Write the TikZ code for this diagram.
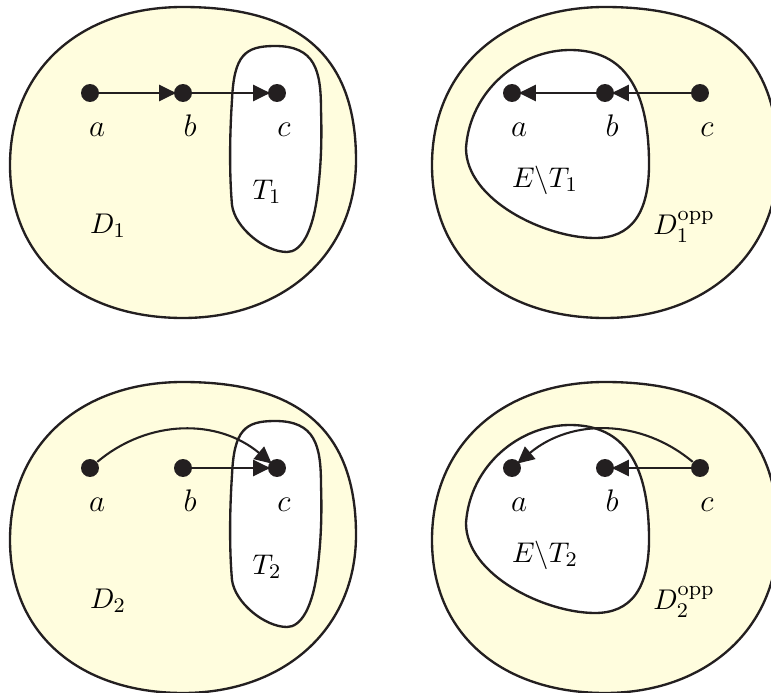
\documentclass[tikz,border=0pt]{standalone}
\usetikzlibrary{arrows.meta}
\definecolor{ink}{RGB}{35,31,32}
\definecolor{cream}{RGB}{255,253,222}

\begin{document}
\begin{tikzpicture}[x=0.3846pt, y=0.3846pt, node distance=14pt]
    % Style Definitions
    \tikzstyle{region} = [draw=ink, fill=cream, line width=0.9pt]
    \tikzstyle{hole} = [draw=ink, fill=white, line width=0.9pt]
    \tikzstyle{vertex} = [circle, fill=ink, inner sep=0pt, minimum size=6.9pt]
    \tikzstyle{vlabel} = [text height=1.5ex, text depth=.25ex, font=\fontsize{13}{15}\selectfont]
    \tikzstyle{setname} = [font=\fontsize{11}{13}\selectfont]
    \tikzstyle{link} = [draw=ink, line width=0.8pt, shorten >=-1pt, -{Triangle[length=6.5pt, width=6.2pt]}]

    \clip (0,0) rectangle (771,-693);

    % Regions
    \foreach \dx in {0,422} {
        \foreach \dy in {0,-375} {
            \draw[region, shift={(\dx,\dy)}] (183,-7) .. controls (301,-7) and (356,-57) .. (356,-160)
                .. controls (356,-255) and (283,-318) .. (183,-318)
                .. controls (83,-318) and (10,-262) .. (10,-165)
                .. controls (10,-70) and (80,-7) .. (183,-7) -- cycle;
        }
    }
    \foreach \dy in {0,-375} {
        % T_i
        \draw[hole, shift={(0,\dy)}] (275,-46) .. controls (315,-46) and (321,-70) .. (321,-110)
            .. controls (322,-140) and (321,-165) .. (318,-190)
            .. controls (313,-235) and (300,-252) .. (287,-252)
            .. controls (265,-252) and (235,-228) .. (232,-205)
            .. controls (229,-170) and (230,-130) .. (232,-100)
            .. controls (234,-55) and (245,-46) .. (275,-46) -- cycle;
        % E\T_i
        \draw[hole, shift={(0,\dy)}] (570,-50) .. controls (625,-50) and (648,-90) .. (649,-160)
            .. controls (650,-215) and (630,-238) .. (595,-238)
            .. controls (545,-238) and (466,-200) .. (466,-148)
            .. controls (470,-90) and (520,-50) .. (570,-50) -- cycle;
    }

    % Nodes
    \node (a1) [vertex] at (90,-93) {};
    \node (b1) [vertex] at (183,-93) {};
    \node (c1) [vertex] at (277,-93) {};
    \node (a1o) [vertex] at (512,-93) {};
    \node (b1o) [vertex] at (605,-93) {};
    \node (c1o) [vertex] at (700,-93) {};
    \node (a2) [vertex] at (90,-468) {};
    \node (b2) [vertex] at (183,-468) {};
    \node (c2) [vertex] at (277,-468) {};
    \node (a2o) [vertex] at (512,-468) {};
    \node (b2o) [vertex] at (605,-468) {};
    \node (c2o) [vertex] at (700,-468) {};

    \node (la1) [vlabel, below of=a1, xshift=2.7pt] {$a$};
    \node (lb1) [vlabel, below of=b1, xshift=2.7pt] {$b$};
    \node (lc1) [vlabel, below of=c1, xshift=2.7pt] {$c$};
    \node (la1o) [vlabel, below of=a1o, xshift=2.7pt] {$a$};
    \node (lb1o) [vlabel, below of=b1o, xshift=2.7pt] {$b$};
    \node (lc1o) [vlabel, below of=c1o, xshift=2.7pt] {$c$};
    \node (la2) [vlabel, below of=a2, xshift=2.7pt] {$a$};
    \node (lb2) [vlabel, below of=b2, xshift=2.7pt] {$b$};
    \node (lc2) [vlabel, below of=c2, xshift=2.7pt] {$c$};
    \node (la2o) [vlabel, below of=a2o, xshift=2.7pt] {$a$};
    \node (lb2o) [vlabel, below of=b2o, xshift=2.7pt] {$b$};
    \node (lc2o) [vlabel, below of=c2o, xshift=2.7pt] {$c$};

    \node (t1) [setname] at (267,-192) {$T_1$};
    \node (d1) [setname] at (108,-226) {$D_1$};
    \node (e1) [setname] at (545,-180) {$E\backslash T_1$};
    \node (d1o) [setname] at (684,-227) {$D_1^{\mathrm{opp}}$};
    \node (t2) [setname] at (267,-567) {$T_2$};
    \node (d2) [setname] at (108,-601) {$D_2$};
    \node (e2) [setname] at (545,-555) {$E\backslash T_2$};
    \node (d2o) [setname] at (684,-602) {$D_2^{\mathrm{opp}}$};

    % Arrows
    \draw[link] (a1) -- (b1);
    \draw[link] (b1) -- (c1);
    \draw[link] (b1o) -- (a1o);
    \draw[link] (c1o) -- (b1o);
    \draw[link] (a2) to[bend left=40] (c2);
    \draw[link] (b2) -- (c2);
    \draw[link] (c2o) to[bend right=40] (a2o);
    \draw[link] (c2o) -- (b2o);

\end{tikzpicture}
\end{document}
